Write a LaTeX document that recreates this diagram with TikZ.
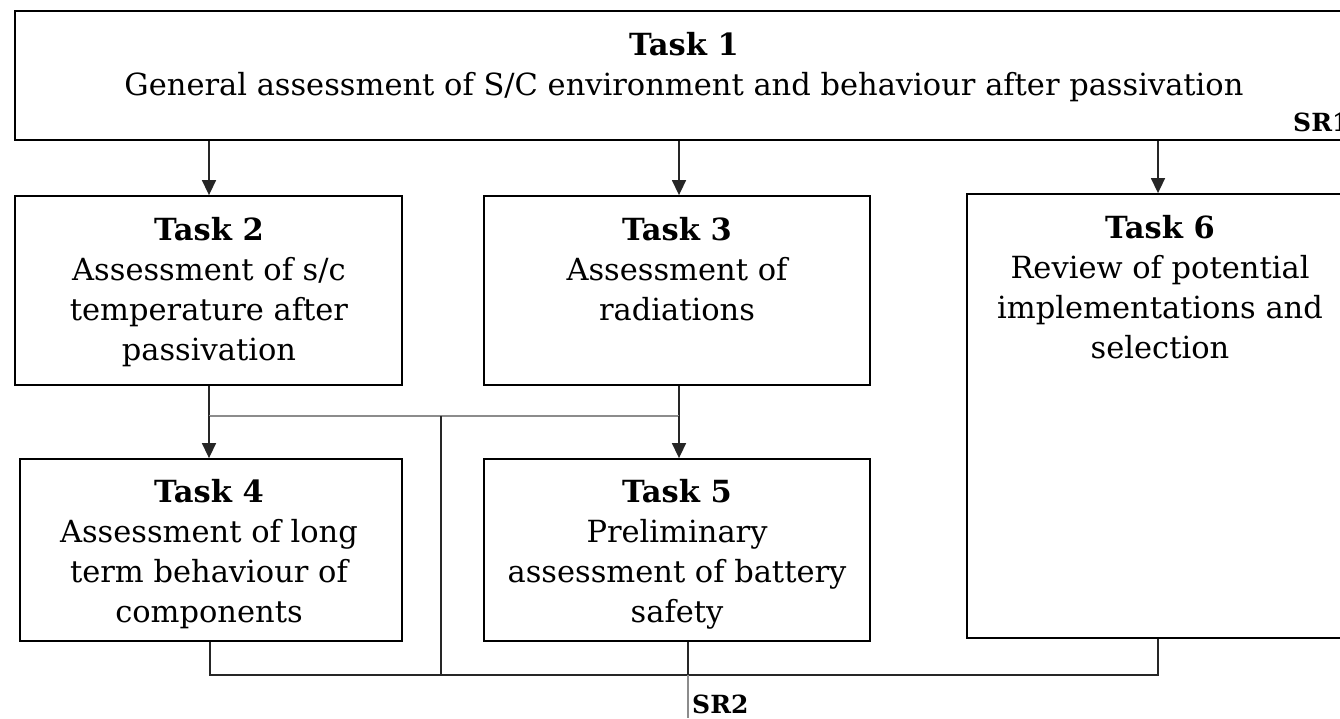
\documentclass[tikz,border=0pt]{standalone}
\usepackage{fontspec}
\setmainfont{DejaVu Serif}
\usetikzlibrary{arrows.meta}
\tikzset{
  box/.style={draw=black, line width=1.8pt, inner sep=0pt},
  txt/.style={anchor=north, inner sep=0pt, align=center, font=\fontsize{30.5}{40}\selectfont},
  srlab/.style={inner sep=0pt, font=\fontsize{25}{28}\selectfont\bfseries},
  conn/.style={draw=black!85, line width=1.5pt},
  gconn/.style={draw=black!45, line width=1.8pt},
  arr/.style={conn, -{Triangle[length=15pt, width=14pt]}},
}
\begin{document}
\begin{tikzpicture}[x=1pt,y=-1pt]
\useasboundingbox (0,0) rectangle (1340,718);
\clip (0,0) rectangle (1340,718);
% boxes
\node[box, minimum width=1340pt, minimum height=129pt] (t1) at (685,75.5) {};
\node[box, minimum width=387pt, minimum height=189pt] (t2) at (208.5,290.5) {};
\node[box, minimum width=386pt, minimum height=189pt] (t3) at (677,290.5) {};
\node[box, minimum width=390pt, minimum height=444pt] (t6) at (1162,416) {};
\node[box, minimum width=382pt, minimum height=182pt] (t4) at (211,550) {};
\node[box, minimum width=386pt, minimum height=182pt] (t5) at (677,550) {};
% texts
\node[txt] (l1) at (684,32) {\textbf{Task 1}\\General assessment of S/C environment and behaviour after passivation};
\node[srlab, anchor=base west] (sr1) at (1293,131) {SR1};
\node[txt] (l2) at (209,217) {\textbf{Task 2}\\Assessment of s/c\\temperature after\\passivation};
\node[txt] (l3) at (677,217) {\textbf{Task 3}\\Assessment of\\radiations};
\node[txt] (l6) at (1160,215) {\textbf{Task 6}\\Review of potential\\implementations and\\selection};
\node[txt] (l4) at (209,479) {\textbf{Task 4}\\Assessment of long\\term behaviour of\\components};
\node[txt] (l5) at (677,479) {\textbf{Task 5}\\Preliminary\\assessment of battery\\safety};
% coordinates
\coordinate (j2) at (209,416);
\coordinate (j3) at (679,416);
\coordinate (jm) at (441,416);
\coordinate (b4) at (210,675);
\coordinate (bm) at (441,675);
\coordinate (b5) at (688,675);
\coordinate (b6) at (1158,675);
\coordinate (sr) at (688,718);
% top arrows
\draw[arr] (t1.south -| j2) -- (t2.north -| j2);
\draw[arr] (t1.south -| j3) -- (t3.north -| j3);
\draw[arr] (t1.south -| b6) -- (t6.north -| b6);
% middle
\draw[conn] (t2.south -| j2) -- (j2);
\draw[conn] (t3.south -| j3) -- (j3);
\draw[gconn] (j2) -- (j3);
\draw[arr] (j2) -- (t4.north -| j2);
\draw[arr] (j3) -- (t5.north -| j3);
\draw[conn] (jm) -- (bm);
% bottom
\draw[conn] (t4.south -| b4) -- (b4) -- (b6) -- (t6.south -| b6);
\draw[conn] (t5.south -| b5) -- (b5);
\draw[gconn] (b5) -- (sr);
\node[srlab, anchor=base west] (sr2) at (692,713) {SR2};
\end{tikzpicture}
\end{document}
